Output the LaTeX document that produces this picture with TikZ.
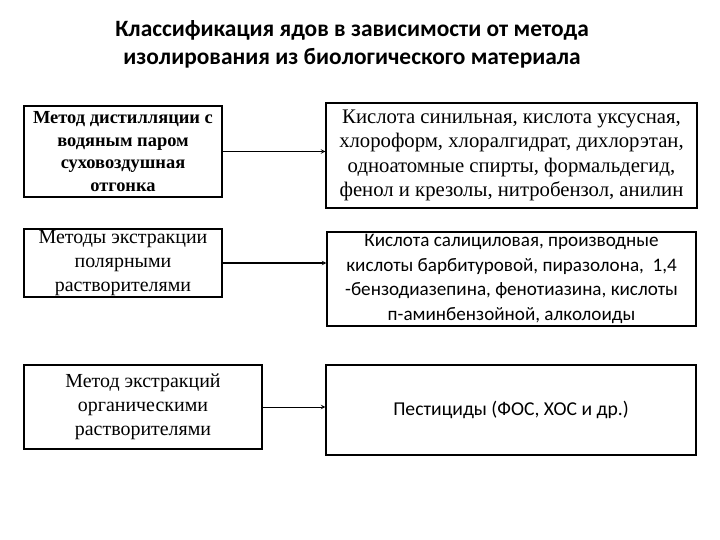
\documentclass[tikz,border=0pt]{standalone}
\usepackage{fontspec}
\setmainfont{Liberation Serif}
\newfontfamily\carlitofont{Carlito}
\begin{document}
\begin{tikzpicture}[x=1bp,y=-1bp,
  bx/.style={draw,line width=1.3bp,inner sep=0pt,align=center},
  ar/.style={-stealth,line width=1bp}]
\useasboundingbox (0,0) rectangle (720,540);
\node[font=\carlitofont\bfseries\fontsize{23.5}{28}\selectfont,align=center] (t) at (352,44) {Классификация ядов в зависимости от метода\\изолирования из биологического материала};
\node[bx,minimum width=198bp,minimum height=91bp,font=\bfseries\fontsize{18.5}{22.5}\selectfont] (l1) at (123,151.5) {Метод дистилляции с\\водяным паром\\суховоздушная\\отгонка};
\node[bx,minimum width=371bp,minimum height=105bp,font=\fontsize{20.8}{24.5}\selectfont] (r1) at (511.5,155.5) {Кислота синильная, кислота уксусная,\\хлороформ, хлоралгидрат, дихлорэтан,\\одноатомные спирты, формальдегид,\\фенол и крезолы, нитробензол, анилин};
\node[bx,minimum width=198bp,minimum height=68bp,font=\fontsize{20}{24}\selectfont] (l2) at (123,263) {Методы экстракции\\полярными\\растворителями};
\node[bx,minimum width=369bp,minimum height=94bp,font=\carlitofont\fontsize{19.2}{24.5}\selectfont] (r2) at (511.5,279) {Кислота салициловая, производные\\кислоты барбитуровой, пиразолона,\ \ 1,4\\-бензодиазепина, фенотиазина, кислоты\\п-аминбензойной, алколоиды};
\node[bx,minimum width=238bp,minimum height=84bp,font=\fontsize{20}{24}\selectfont] (l3) at (143,407) {Метод экстракций\\органическими\\растворителями};
\node[bx,minimum width=370bp,minimum height=90bp,font=\carlitofont\fontsize{19.7}{24}\selectfont] (r3) at (511,410) {Пестициды (ФОС, ХОС и др.)};
\draw[ar] (l1.east) -- (l1.east -| r1.west);
\draw[ar] (l2.east) -- (l2.east -| r2.west);
\draw[ar] (l3.east) -- (l3.east -| r3.west);
\end{tikzpicture}
\end{document}
